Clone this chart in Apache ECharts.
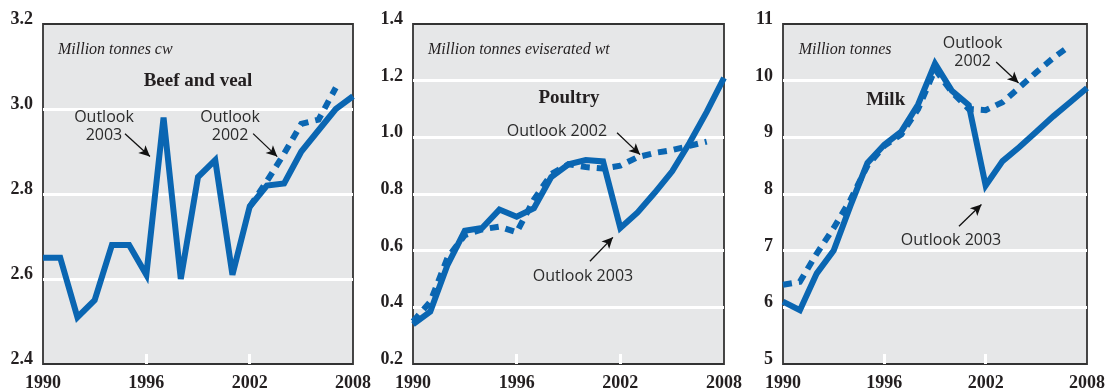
<!DOCTYPE html>
<html>
<head>
<meta charset="utf-8">
<script src="https://cdn.jsdelivr.net/npm/echarts@6/dist/echarts.min.js"></script>
<style>
html,body{margin:0;padding:0;background:#fff;}
#c{width:1108px;height:392px;}
</style>
</head>
<body>
<div id="c"></div>
<script>
const years = [1990,1991,1992,1993,1994,1995,1996,1997,1998,1999,2000,2001,2002,2003,2004,2005,2006,2007,2008];
const xTickLabels = [1990, 1996, 2002, 2008];

// Beef and veal (million tonnes cw)
const beef2003 = [2.65,2.65,2.51,2.55,2.68,2.68,2.61,2.98,2.60,2.84,2.88,2.61,2.77,2.82,2.825,2.90,2.95,3.00,3.03];
const beef2002 = [null,null,null,null,null,null,null,null,null,null,null,null,2.77,2.83,2.895,2.965,2.975,3.05,null];

// Poultry (million tonnes eviscerated wt)
const poultry2003 = [0.34,0.385,0.55,0.67,0.68,0.745,0.72,0.75,0.86,0.905,0.92,0.915,0.68,0.735,0.805,0.88,0.98,1.09,1.21];
const poultry2002 = [0.35,0.42,0.575,0.655,0.675,0.685,0.665,0.78,0.87,0.905,0.895,0.89,0.90,0.93,0.945,0.955,0.97,0.985,null];

// Milk (million tonnes)
const milk2003 = [6.1,5.95,6.6,7.0,7.8,8.55,8.87,9.1,9.58,10.3,9.82,9.57,8.15,8.58,8.83,9.1,9.37,9.62,9.87];
const milk2002 = [6.4,6.45,6.95,7.4,7.9,8.5,8.85,9.05,9.5,10.2,9.8,9.5,9.48,9.62,9.88,10.15,10.4,10.62,null];

const panelTitles = ['Beef and veal', 'Poultry', 'Milk'];
const unitLabels = ['Million tonnes cw', 'Million tonnes eviserated wt', 'Million tonnes'];
const yRanges = [[2.4, 3.2, 0.2, 1], [0.2, 1.4, 0.2, 1], [5, 11, 1, 0]];

const BLUE = '#0a66b2';
const pair = arr => arr.map((v, i) => [years[i], v]);

const gridLefts = [43, 413, 783];
const grids = gridLefts.map((l, i) => ({
  left: l, top: 24, width: i === 0 ? 310 : 311, height: 341,
  show: true, backgroundColor: '#e6e7e8', borderColor: '#333', borderWidth: 1.8, containLabel: false
}));

const xAxes = grids.map((g, i) => ({
  type: 'value', gridIndex: i, min: 1990, max: 2008, interval: 6,
  axisLine: { show: false },
  axisTick: { show: true, inside: true, length: 10, customValues: [1996, 2002], lineStyle: { color: '#fff', width: 3 } },
  splitLine: { show: false },
  axisLabel: { color: '#231f20', fontFamily: 'Liberation Serif', fontWeight: 'bold', fontSize: 18, margin: 10,
    customValues: xTickLabels, formatter: v => String(v) }
}));

const yAxes = yRanges.map((r, i) => ({
  type: 'value', gridIndex: i, min: r[0], max: r[1], interval: r[2],
  axisLine: { show: false }, axisTick: { show: false },
  splitLine: { show: true, showMinLine: false, showMaxLine: false, lineStyle: { color: '#fff', width: 3 } },
  axisLabel: { color: '#231f20', fontFamily: 'Liberation Serif', fontWeight: 'bold', fontSize: 18, margin: 10,
    verticalAlign: 'bottom', lineHeight: 9, formatter: v => v.toFixed(r[3]) }
}));

const arrowStyle = { color: '#111', width: 1.3, type: 'solid' };
function arrows(list) {
  return {
    silent: true, symbol: ['none', 'arrow'], symbolSize: [8, 11],
    lineStyle: arrowStyle, label: { show: false }, emphasis: { disabled: true },
    data: list.map(a => [{ coord: a[0] }, { coord: a[1] }])
  };
}

const arrowDefs = [
  [[[1994.76, 2.942], [1996.21, 2.888]], [[2002.2, 2.942], [2003.6, 2.888]]],
  [[[2001.81, 1.0164], [2003.14, 0.939]], [[2000.24, 0.5625], [2001.57, 0.647]]],
  [[[2002.62, 10.33], [2003.95, 9.96]], [[2000.42, 7.43], [2001.75, 7.815]]]
];

const dashedSets = [beef2002, poultry2002, milk2002];
const solidSets = [beef2003, poultry2003, milk2003];
const series = [];
for (let i = 0; i < 3; i++) {
  series.push({
    type: 'line', xAxisIndex: i, yAxisIndex: i, data: pair(dashedSets[i]), showSymbol: false, silent: true,
    connectNulls: false,
    lineStyle: { color: BLUE, width: 6, type: [9, 7], join: 'miter', cap: 'butt' }
  });
  series.push({
    type: 'line', xAxisIndex: i, yAxisIndex: i, data: pair(solidSets[i]), showSymbol: false, silent: true,
    lineStyle: { color: BLUE, width: 6, join: 'miter', miterLimit: 4 },
    markLine: arrows(arrowDefs[i])
  });
}

const chart = echarts.init(document.getElementById('c'), null, { renderer: 'canvas' });
chart.setOption({ animation: false, grid: grids, xAxis: xAxes, yAxis: yAxes, series: series });

// Text annotations, anchored in data coordinates
const texts = [
  { g: 0, at: [1990.87, 3.139], text: unitLabels[0], kind: 'unit' },
  { g: 0, at: [1999.0, 3.066], text: panelTitles[0], kind: 'title' },
  { g: 0, at: [1993.54, 2.96], text: 'Outlook\n2003', kind: 'note' },
  { g: 0, at: [2000.86, 2.96], text: 'Outlook\n2002', kind: 'note' },
  { g: 1, at: [1990.87, 1.3085], text: unitLabels[1], kind: 'unit' },
  { g: 1, at: [1999.03, 1.1396], text: panelTitles[1], kind: 'title' },
  { g: 1, at: [1998.33, 1.02], text: 'Outlook 2002', kind: 'note' },
  { g: 1, at: [1999.84, 0.51], text: 'Outlook 2003', kind: 'note' },
  { g: 2, at: [1990.93, 10.54], text: unitLabels[2], kind: 'unit' },
  { g: 2, at: [1996.08, 9.66], text: panelTitles[2], kind: 'title' },
  { g: 2, at: [2001.23, 10.49], text: 'Outlook\n2002', kind: 'note' },
  { g: 2, at: [1999.95, 7.18], text: 'Outlook 2003', kind: 'note' }
];
const fonts = {
  unit: { font: 'italic 16px "Liberation Serif"', fill: '#231f20', align: 'left' },
  title: { font: 'bold 19px "Liberation Serif"', fill: '#231f20', align: 'center' },
  note: { font: '16px "Open Sans"', fill: '#2b2b2b', align: 'center' }
};
const graphic = texts.map(t => {
  const p = chart.convertToPixel({ gridIndex: t.g }, t.at);
  const f = fonts[t.kind];
  return {
    type: 'text', x: p[0], y: p[1], z: 100, silent: true,
    style: { text: t.text, font: f.font, fill: f.fill, align: f.align, verticalAlign: 'middle', lineHeight: 18 }
  };
});
chart.setOption({ graphic: graphic });
</script>
</body>
</html>
